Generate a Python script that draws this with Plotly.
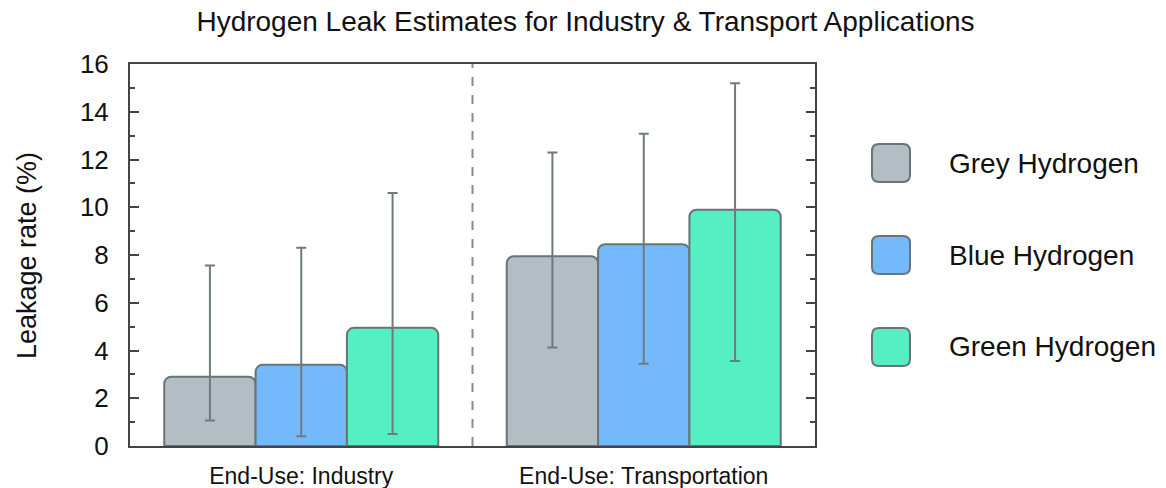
import re
import plotly.graph_objects as go

# Data
categories = ["End-Use: Industry", "End-Use: Transportation"]
series_names = ["Grey Hydrogen", "Blue Hydrogen", "Green Hydrogen"]
grey_values = [2.9, 7.95]
blue_values = [3.4, 8.45]
green_values = [4.95, 9.9]
grey_low = [1.07, 4.13]
grey_high = [7.56, 12.29]
blue_low = [0.41, 3.44]
blue_high = [8.30, 13.08]
green_low = [0.5, 3.56]
green_high = [10.6, 15.19]
y_ticks = [0, 2, 4, 6, 8, 10, 12, 14, 16]

fill_colors = ["#b3bec4", "#74b9fc", "#55efc4"]
edge_color = "#697378"
err_color = "#6e7a7e"
text_color = "#111111"
FONT = "Liberation Sans, Arial, sans-serif"

# Plot-area geometry in pixels
W, H = 1166, 488
ML, MR, MT, MB = 130, 351, 64, 42
plot_w = W - ML - MR
plot_h = H - MT - MB


def px_to_paper_x(px):
    return (px - ML) / plot_w


def px_to_paper_y(py):
    return (H - MB - py) / plot_h


fig = go.Figure()
x_idx = [0, 1]
for name, vals, lo, hi, col in zip(
    series_names,
    [grey_values, blue_values, green_values],
    [grey_low, blue_low, green_low],
    [grey_high, blue_high, green_high],
    fill_colors,
):
    fig.add_trace(go.Bar(
        x=x_idx, y=vals, name=name,
        marker=dict(color=col, line=dict(color=edge_color, width=2), cornerradius=7),
        error_y=dict(
            type="data", symmetric=False,
            array=[h - v for h, v in zip(hi, vals)],
            arrayminus=[v - l for v, l in zip(vals, lo)],
            color=err_color, thickness=2, width=5,
        ),
        showlegend=False,
    ))

fig.update_layout(
    width=W, height=H,
    margin=dict(l=ML, r=MR, t=MT, b=MB, autoexpand=False),
    paper_bgcolor="white", plot_bgcolor="white",
    barmode="group", bargap=0.2, bargroupgap=0,
    font=dict(family=FONT, color=text_color),
    title=dict(
        text="Hydrogen Leak Estimates for Industry & Transport Applications",
        x=585.5 / W, xref="container", xanchor="center",
        y=1 - 21 / H, yref="container", yanchor="middle",
        font=dict(size=28, family=FONT, color=text_color),
    ),
)

fig.update_xaxes(
    range=[-0.5, 1.5], tickmode="array", tickvals=x_idx, ticktext=categories,
    tickfont=dict(size=23, family=FONT, color=text_color),
    showline=True, linecolor="#444444", linewidth=2, mirror=True,
    ticks="", showgrid=False, zeroline=False, ticklabelstandoff=8,
    automargin=False,
)
fig.update_yaxes(
    range=[0, 16], tickmode="array", tickvals=y_ticks,
    tickfont=dict(size=26, family=FONT, color=text_color),
    showline=True, linecolor="#444444", linewidth=2, mirror="ticks",
    ticks="inside", ticklen=9, tickwidth=2, tickcolor="#444444",
    minor=dict(dtick=1, ticks="inside", ticklen=5, tickwidth=2, tickcolor="#444444"),
    showgrid=False, zeroline=False, ticklabelstandoff=14,
    automargin=False,
)

# Y-axis title
fig.add_annotation(xref="paper", yref="paper", x=px_to_paper_x(27), y=px_to_paper_y(256),
                   xanchor="center", yanchor="middle", textangle=-90, showarrow=False,
                   text="Leakage rate (%)", font=dict(size=27, family=FONT, color=text_color))

# Dashed separator between the two end-use groups
fig.add_shape(type="line", xref="x", yref="paper", x0=0.5, x1=0.5, y0=0, y1=1,
              line=dict(color="#8a8a8a", width=2, dash="dash"))

# Custom legend: rounded swatches with labels to the right of the plot
legend_rows = [163, 255, 347]
sw = 38
r = 7


def conv(m):
    return f"{px_to_paper_x(float(m.group(1))):.5f},{px_to_paper_y(float(m.group(2))):.5f}"


for name, col, cy in zip(series_names, fill_colors, legend_rows):
    x0p, x1p = 872, 872 + sw
    y0p, y1p = cy - sw / 2, cy + sw / 2
    path = (
        f"M {x0p + r},{y0p} L {x1p - r},{y0p} Q {x1p},{y0p} {x1p},{y0p + r} "
        f"L {x1p},{y1p - r} Q {x1p},{y1p} {x1p - r},{y1p} "
        f"L {x0p + r},{y1p} Q {x0p},{y1p} {x0p},{y1p - r} "
        f"L {x0p},{y0p + r} Q {x0p},{y0p} {x0p + r},{y0p} Z"
    )
    path_paper = re.sub(r"(-?\d+\.?\d*),(-?\d+\.?\d*)", conv, path)
    fig.add_shape(type="path", xref="paper", yref="paper", path=path_paper,
                  fillcolor=col, line=dict(color=edge_color, width=2))
    fig.add_annotation(xref="paper", yref="paper", x=px_to_paper_x(947), y=px_to_paper_y(cy),
                       xanchor="left", yanchor="middle", showarrow=False, text=name,
                       font=dict(size=28, family=FONT, color=text_color))

fig.write_html("out.html")
